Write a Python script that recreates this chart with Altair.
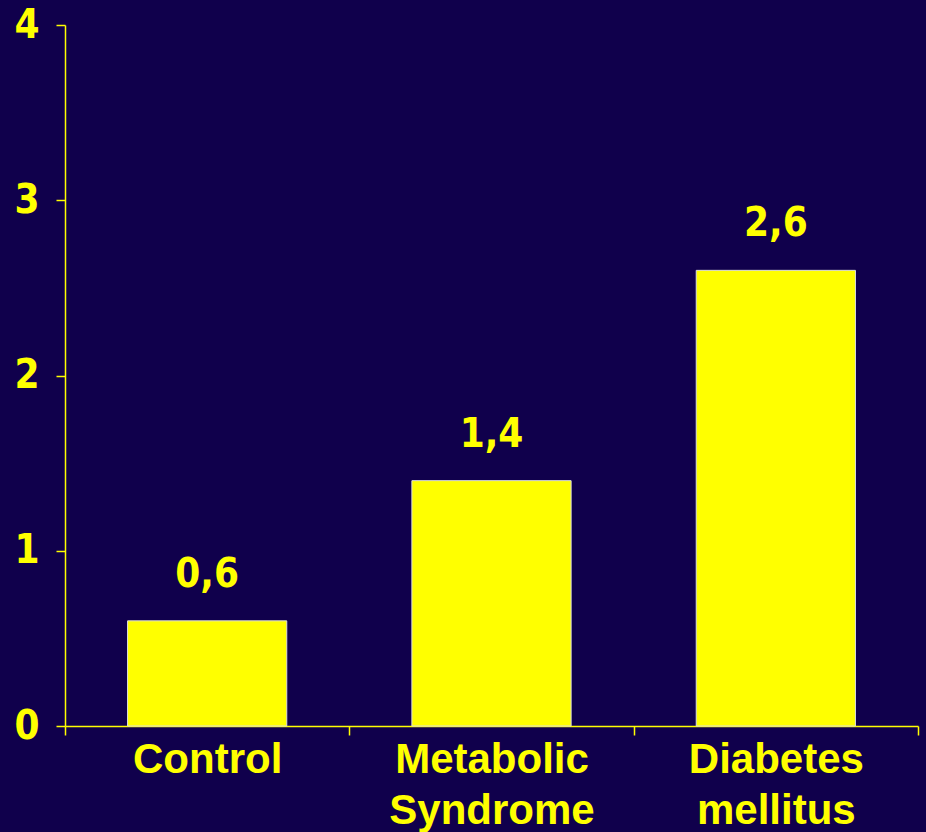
import altair as alt
import pandas as pd

categories = ["Control", "Metabolic Syndrome", "Diabetes mellitus"]
values = [0.6, 1.4, 2.6]
value_labels = ["0,6", "1,4", "2,6"]

df = pd.DataFrame({"cat": categories, "val": values, "lab": value_labels})

YEL = "#FFFF00"
BG = "#10004c"
NARROW = "DejaVu Sans Condensed"

x = alt.X("cat:N", sort=categories, title=None,
          scale=alt.Scale(paddingInner=0, paddingOuter=0),
          axis=alt.Axis(labelAngle=0, labelColor=YEL, labelFont="Liberation Sans",
                        labelFontWeight="bold", labelFontSize=42, labelPadding=4,
                        labelLineHeight=51, labelExpr="split(datum.label, ' ')",
                        labelLimit=0, labelOverlap=False,
                        domainColor=YEL, domainWidth=1.5, tickColor=YEL, tickSize=9,
                        tickWidth=1.5, tickBand="extent", ticks=True, grid=False,
                        labelBaseline="top"))
y = alt.Y("val:Q", title=None,
          scale=alt.Scale(domain=[0, 4], nice=False),
          axis=alt.Axis(values=[0, 1, 2, 3, 4], format="d", labelColor=YEL,
                        labelFont=NARROW, labelFontWeight="bold",
                        labelFontSize=40, labelPadding=17, domainColor=YEL,
                        domainWidth=1.5, tickColor=YEL, tickSize=9, tickWidth=1.5,
                        grid=False))

bars = alt.Chart(df).mark_bar(color=YEL, stroke="#dddddd", strokeWidth=1,
                              width=alt.RelativeBandSize(0.56)).encode(x=x, y=y)
text = alt.Chart(df).mark_text(baseline="bottom", dy=-26, color=YEL,
                               font=NARROW, fontWeight="bold",
                               fontSize=40).encode(x=alt.X("cat:N", sort=categories),
                                                   y="val:Q", text="lab:N")

chart = (bars + text).properties(
    width=853, height=701, background=BG,
    autosize=alt.AutoSizeParams(type="none"),
    padding={"left": 65, "top": 25, "right": 8, "bottom": 106},
).configure_view(stroke=None)

chart.save("out.html", embed_options={"renderer": "svg", "actions": False})
